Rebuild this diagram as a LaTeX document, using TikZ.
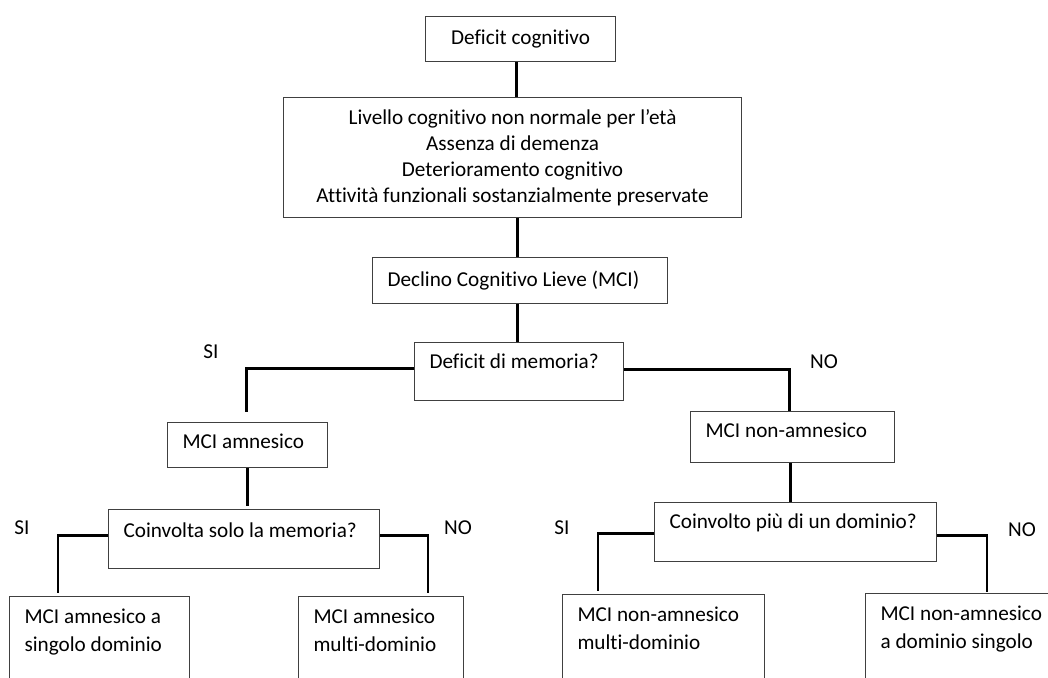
\documentclass[tikz,border=0pt]{standalone}
\usepackage{fontspec}
\setmainfont{Carlito}[Ligatures=NoCommon]
\usetikzlibrary{calc}
\newcommand{\lefttext}[2]{\makebox[#1pt][l]{#2}}
\newcommand{\twolines}[3]{\parbox[t]{#1pt}{\raggedright #2\\#3}}
\begin{document}
\begin{tikzpicture}[x=1pt,y=-1pt,
  box/.style={draw=black!75, line width=1.1pt, inner sep=0pt, anchor=north west,
    font=\fontsize{21.2}{26}\selectfont, text=black},
  lbox/.style={box, inner xsep=15pt},
  botbox/.style={box, inner xsep=15pt, text height=27pt, text depth=110pt,
    font=\fontsize{21.2}{28}\selectfont},
  conn/.style={line width=2.4pt, black},
  lbl/.style={font=\fontsize{21.2}{26}\selectfont, inner sep=0pt, text=black}]
\useasboundingbox (0,0) rectangle (1048,677);
\clip (0,0) rectangle (1048,677);
\fill[white] (0,0) rectangle (1048,677);

% boxes
\node[box, minimum width=190pt, text height=28pt, text depth=17pt] (b1) at (425,16) {Deficit cognitivo};
\node[box, minimum width=458pt, minimum height=120pt, align=center] (b2) at (283,97)
  {Livello cognitivo non normale per l’età\\Assenza di demenza\\Deterioramento cognitivo\\Attività funzionali sostanzialmente preservate};
\node[lbox, text height=29pt, text depth=17pt] (b3) at (372,257) {\lefttext{265}{Declino Cognitivo Lieve (MCI)}};
\node[lbox, text height=26pt, text depth=32pt] (b4) at (414,342) {\lefttext{179}{Deficit di memoria?}};
\node[lbox, text height=26pt, text depth=19pt] (b5) at (167,422) {\lefttext{130}{MCI amnesico}};
\node[lbox, text height=26pt, text depth=25pt] (b6) at (690,411) {\lefttext{174}{MCI non-amnesico}};
\node[lbox, text height=28pt, text depth=31pt] (b7) at (108,509) {\lefttext{241}{Coinvolta solo la memoria?}};
\node[lbox, text height=26pt, text depth=33pt] (b8) at (654,502) {\lefttext{252}{Coinvolto più di un dominio?}};
\node[botbox] (b9) at (9,596) {\twolines{150}{MCI amnesico a}{singolo dominio}};
\node[botbox] (b10) at (298,596) {\twolines{135}{MCI amnesico}{multi-dominio}};
\node[botbox] (b11) at (562,594) {\twolines{172}{MCI non-amnesico}{multi-dominio}};
\node[botbox] (b12) at (865,593) {\twolines{190}{MCI non-amnesico}{a dominio singolo}};

% connectors
\draw[conn] ($(b1.south)+(-4,0)$) -- ($(b1.south |- b2.north)+(-4,0)$);
\draw[conn] ($(b3.north |- b2.south)+(-2.5,0)$) -- ($(b3.north)+(-2.5,0)$);
\draw[conn] ($(b4.north |- b3.south)+(-1.5,0)$) -- ($(b4.north)+(-1.5,0)$);
\draw[conn] ([yshift=3pt]b4.west) -| ($(b5.north)+(-1,-10)$);
\draw[conn] ([yshift=2pt]b4.east) -| ($(b6.north)+(-3,0)$);
\draw[conn] (b5.south) -- ($(b5.south |- b7.north)+(0,-3)$);
\draw[conn] ($(b6.south)+(-2,0)$) -- ($(b6.south |- b8.north)+(-2,0)$);
\draw[conn] ([yshift=3.5pt]b7.west) -| ($(b9.north west)+(49,-3)$);
\draw[conn] ([yshift=3.5pt]b7.east) -| ($(b10.north west)+(130,-3)$);
\draw[conn] ([yshift=-1.5pt]b8.west) -| ($(b11.north west)+(36,-3)$);
\draw[conn] ([yshift=-3.5pt]b8.east) -| ($(b12.north west)+(122,-1)$);

% labels
\node[lbl] (si1) at (211,352) {SI};
\node[lbl] (no1) at (824,362) {NO};
\node[lbl] (si2) at (22,528) {SI};
\node[lbl] (no2) at (458,528) {NO};
\node[lbl] (si3) at (562,528) {SI};
\node[lbl] (no3) at (1022,530) {NO};
\end{tikzpicture}
\end{document}
